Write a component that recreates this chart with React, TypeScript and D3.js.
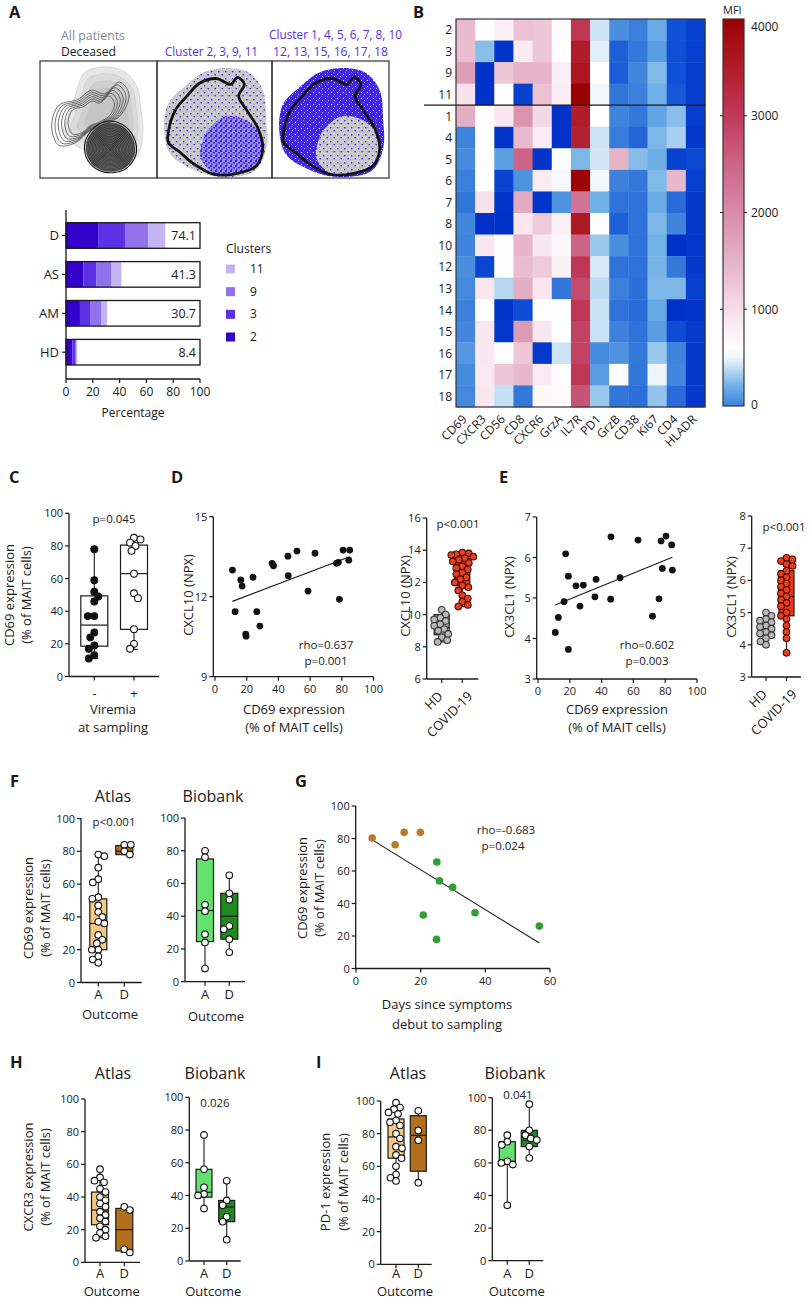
import React from "react";
import * as d3 from "d3";

const FONT = "'Open Sans', 'DejaVu Sans', sans-serif";
const INK = "#1a1a1a";

// ---------------- Panel A: cluster composition ----------------
const barGroups = ["D", "AS", "AM", "HD"];
const barTotals = [74.1, 41.3, 30.7, 8.4];
const cluster2 = [24.0, 12.9, 10.4, 4.7];
const cluster3 = [20.0, 9.9, 8.0, 2.0];
const cluster9 = [17.5, 11.2, 8.1, 1.0];
const cluster11 = [12.6, 7.3, 4.2, 0.7];
const clusterNames = ["2", "3", "9", "11"];
const clusterColors = ["#3300cc", "#5a31e4", "#9172ec", "#c4b4f6"];
const barTicks = [0, 20, 40, 60, 80, 100];

// tSNE decoration shapes (normalised box coordinates)
const cloudShape = [[0.06, 0.56], [0.1, 0.36], [0.24, 0.22], [0.4, 0.1], [0.6, 0.06], [0.8, 0.1], [0.92, 0.25], [0.95, 0.5], [0.95, 0.75], [0.85, 0.94], [0.55, 0.99], [0.3, 0.92], [0.12, 0.8]];
const outlineShape = [[0.1, 0.6], [0.16, 0.42], [0.26, 0.3], [0.37, 0.19], [0.52, 0.15], [0.64, 0.2], [0.7, 0.14], [0.76, 0.2], [0.71, 0.3], [0.78, 0.42], [0.88, 0.58], [0.92, 0.75], [0.86, 0.9], [0.7, 0.96], [0.5, 0.97], [0.32, 0.88], [0.2, 0.78], [0.1, 0.7]];
const lowerRightShape = [[0.45, 0.58], [0.6, 0.47], [0.8, 0.52], [0.91, 0.66], [0.88, 0.86], [0.72, 0.95], [0.5, 0.96], [0.38, 0.83], [0.4, 0.67]];
const grayDensity = [[0.3, 0.3], [0.38, 0.1], [0.55, 0.05], [0.72, 0.09], [0.83, 0.22], [0.86, 0.4], [0.88, 0.6], [0.84, 0.8], [0.7, 0.92], [0.5, 0.9], [0.4, 0.78], [0.3, 0.72], [0.2, 0.62], [0.25, 0.45]];
const coreContour = [[0.42, 0.62], [0.55, 0.52], [0.7, 0.54], [0.8, 0.65], [0.82, 0.8], [0.72, 0.93], [0.55, 0.95], [0.43, 0.88], [0.38, 0.75]];
const armContour = [[0.1, 0.56], [0.16, 0.38], [0.32, 0.33], [0.44, 0.25], [0.55, 0.28], [0.68, 0.18], [0.76, 0.28], [0.7, 0.45], [0.55, 0.55], [0.42, 0.6], [0.3, 0.7], [0.16, 0.72]];

// ---------------- Panel B: heatmap ----------------
const heatRows = ["2", "3", "9", "11", "1", "4", "5", "6", "7", "8", "10", "12", "13", "14", "15", "16", "17", "18"];
const heatMarkers = ["CD69", "CXCR3", "CD56", "CD8", "CXCR6", "GrzA", "IL7R", "PD1", "GrzB", "CD38", "Ki67", "CD4", "HLADR"];
const heatValues = [
  [1400, 620, 800, 1300, 1250, 650, 3050, 420, 60, 0, 180, -150, -230],
  [1350, 260, -280, 850, 1250, 620, 3500, 470, -100, -20, 120, -160, -230],
  [1750, -290, 1250, 1500, 1500, 800, 3600, 600, -110, 30, 240, -150, -240],
  [950, -290, 620, -230, 1300, 820, 4000, 520, -30, 10, 200, -130, -240],
  [1550, 620, 900, 1900, 1050, -290, 3500, 600, 20, -20, 150, 260, -240],
  [20, 620, -280, 1400, 850, -290, 3400, 420, -10, -80, 230, 330, -270],
  [50, 620, 130, 2500, -280, 630, 230, 430, 1500, 250, 190, -220, -180],
  [0, 600, -210, 80, 850, 540, 3950, 530, 10, -20, 240, 1450, -230],
  [-30, 950, -280, 1600, -280, 80, 2300, 200, -40, -40, 180, -60, -260],
  [30, -330, -300, 900, 1200, 780, 3550, 620, -100, -40, 230, 20, -260],
  [20, 880, 610, 1500, 880, 700, 2500, 300, 60, -40, 210, -300, -270],
  [60, -200, 620, 1350, 1200, 760, 3050, 440, -40, -40, 220, -20, -260],
  [40, 900, 360, 1550, 900, -30, 2800, 380, 0, -50, 230, 230, -230],
  [10, 620, -280, -170, 620, 630, 3050, 410, -40, -60, 170, -300, -280],
  [30, 880, -270, 1800, 880, 630, 2900, 410, 10, -40, 120, -170, -250],
  [100, 880, 640, 1250, -260, 420, 2900, 50, 80, -20, 300, 20, -260],
  [50, 860, 1250, 1450, 850, 650, 3050, 120, 620, -30, 500, 30, -260],
  [40, 880, 400, -20, 680, 660, 2700, 300, -30, -50, 280, -60, -260],
];
const heatStops = [-300, -150, 0, 200, 350, 500, 600, 900, 1300, 1800, 2500, 3000, 3500, 4000];
const heatColors = ["#0030c8", "#1050d6", "#3a7fdb", "#6fb0e6", "#b0d4f0", "#eef5fc", "#ffffff", "#f9e6ee", "#ecc2d3", "#dc9cb6", "#cc6488", "#c03a5a", "#b01c28", "#990000"];
const mfiTicks = [0, 1000, 2000, 3000, 4000];

// ---------------- Panel C ----------------
const viremiaNegStats = [11, 18.6, 31.5, 49.4, 78.4];
const viremiaNegPts = [78, 59, 52, 49, 46, 37, 37, 27, 24, 19, 17, 13, 11];
const viremiaPosStats = [16.6, 28.9, 63, 80.5, 85];
const viremiaPosPts = [85, 84, 82, 80, 77, 63, 51, 48, 29, 20, 17];
const pctTicks = [0, 20, 40, 60, 80, 100];

// ---------------- Panel D ----------------
const cxcl10Scatter = [[11, 13.0], [16.3, 12.63], [17.1, 12.4], [24, 12.73], [36, 13.25], [36.9, 13.16], [46, 13.52], [46.2, 12.79], [51.7, 13.71], [58.7, 12.21], [63.1, 13.63], [76.6, 13.25], [77.8, 13.29], [80.8, 13.75], [85, 13.75], [84.4, 13.37], [78.5, 11.9], [12.7, 11.44], [19.4, 10.6], [19.6, 10.52], [26.4, 11.44], [28.3, 10.9]];
const cxcl10HDStats = [8.3, 8.75, 9.2, 10.0, 10.3];
const cxcl10HDPts = [10.3, 10.0, 9.8, 9.7, 9.6, 9.4, 9.3, 9.1, 9.0, 8.8, 8.6, 8.4, 8.3];
const cxcl10CovStats = [10.5, 11.8, 12.6, 13.5, 13.85];
const cxcl10CovPts = [13.85, 13.8, 13.75, 13.7, 13.6, 13.5, 13.4, 13.3, 13.2, 13.0, 12.9, 12.8, 12.6, 12.5, 12.3, 12.2, 12.0, 11.8, 11.7, 11.5, 11.2, 11.0, 10.8, 10.6, 10.5];

// ---------------- Panel E ----------------
const cx3cl1Scatter = [[10.9, 4.15], [12.8, 4.52], [16.4, 4.91], [17.4, 6.09], [19.1, 5.54], [19.1, 3.73], [23.9, 5.3], [26.4, 4.8], [28.5, 5.32], [36.5, 5.46], [35.8, 5.03], [45.9, 6.51], [45.7, 4.97], [51.6, 5.5], [62.9, 6.43], [77.4, 6.41], [80.5, 6.53], [84.1, 6.31], [78.2, 5.73], [84.5, 5.69], [76.1, 4.98], [72, 4.55]];
const cx3cl1HDStats = [4.0, 4.3, 4.55, 4.8, 5.0];
const cx3cl1HDPts = [5.0, 4.9, 4.8, 4.75, 4.7, 4.6, 4.55, 4.5, 4.4, 4.35, 4.3, 4.2, 4.1, 4.0];
const cx3cl1CovStats = [3.75, 4.9, 5.5, 6.3, 6.7];
const cx3cl1CovPts = [6.7, 6.65, 6.6, 6.5, 6.45, 6.3, 6.2, 6.1, 6.0, 5.9, 5.8, 5.7, 5.6, 5.5, 5.4, 5.3, 5.2, 5.0, 4.9, 4.8, 4.6, 4.4, 4.2, 3.75];

// ---------------- Panel F ----------------
const fAtlasAStats = [11, 20, 36, 51, 78];
const fAtlasAPts = [78, 77, 70, 63, 61, 52, 51, 47, 43, 40, 37, 36, 29, 26, 24, 20, 20, 16, 14, 12];
const fAtlasDStats = [78, 78, 80, 83.5, 84];
const fAtlasDPts = [84, 84, 80, 78];
const fBioAStats = [8, 24.5, 43.5, 75, 80];
const fBioAPts = [80, 76, 47, 43, 29, 24, 8];
const fBioDStats = [18, 26, 40, 54, 65];
const fBioDPts = [65, 54, 50, 34, 32, 26, 18];

// ---------------- Panel G ----------------
const daysDeceased = [[5, 80.3], [12.1, 76.2], [14.9, 83.8], [19.9, 83.8]];
const daysAlive = [[25.8, 53.9], [29.9, 49.9], [36.8, 34.3], [20.8, 32.9], [24.9, 17.9], [56.7, 26.1], [25, 65.5]];
const daysTicks = [0, 20, 40, 60];

// ---------------- Panel H ----------------
const hAtlasAStats = [15, 23, 32, 43, 57];
const hAtlasAPts = [57, 52, 50, 49, 45, 43, 40, 38, 36, 34, 31, 29, 27, 25, 22, 20, 18, 16, 15];
const hAtlasDStats = [6, 7, 20, 33, 34];
const hAtlasDPts = [34, 32, 8, 6];
const hBioAStats = [32, 39, 42, 56, 77];
const hBioAPts = [77, 56, 45, 41, 40, 32];
const hBioDStats = [13, 24, 33, 37, 49];
const hBioDPts = [49, 37, 34, 27, 24, 13];

// ---------------- Panel I ----------------
const iAtlasAStats = [51, 65, 78, 89, 99];
const iAtlasAPts = [99, 96, 95, 93, 92, 88, 87, 85, 80, 77, 72, 71, 67, 65, 60, 55, 53, 51];
const iAtlasDStats = [50, 57, 79, 91, 94];
const iAtlasDPts = [94, 82, 76, 50];
const iBioAStats = [34, 59, 61, 73, 77];
const iBioAPts = [77, 73, 71, 61, 60, 59, 34];
const iBioDStats = [63, 70, 74, 80, 96];
const iBioDPts = [96, 80, 77, 75, 74, 70, 63];

const LIGHT_OR = "#f5c983";
const DARK_OR = "#b3701c";
const LIGHT_GR = "#63e06e";
const DARK_GR = "#1e8a1e";
const G_BROWN = "#b97a2c";
const G_GREEN = "#2f9f2f";
const PURPLE_TXT = "#5530e0";

// ------------------------------------------------------------
function beeswarm(values: number[], y: (v: number) => number, r: number, maxDx: number) {
  const order = values.map((_, i) => i).sort((a, b) => values[b] - values[a]);
  const placed: { x: number; y: number }[] = [];
  const out: { dx: number; y: number }[] = new Array(values.length);
  const minD = 2 * r * 0.92;
  order.forEach((i, k) => {
    const py = y(values[i]);
    let chosen = 0;
    let bestOverlap = Infinity;
    let done = false;
    for (let s = 0; s <= maxDx && !done; s += 0.5) {
      const cands = k % 2 ? [s, -s] : [-s, s];
      for (const dx of cands) {
        let worst = 0;
        for (const p of placed) {
          const d = Math.hypot(p.x - dx, p.y - py);
          if (d < minD) worst = Math.max(worst, minD - d);
        }
        if (worst === 0) { chosen = dx; done = true; break; }
        if (worst < bestOverlap) { bestOverlap = worst; chosen = dx; }
      }
    }
    placed.push({ x: chosen, y: py });
    out[i] = { dx: chosen, y: py };
  });
  return out;
}

function lsq(pts: number[][]) {
  const mx = d3.mean(pts, (p) => p[0])!;
  const my = d3.mean(pts, (p) => p[1])!;
  let sxy = 0, sxx = 0;
  pts.forEach((p) => { sxy += (p[0] - mx) * (p[1] - my); sxx += (p[0] - mx) ** 2; });
  const b = sxy / sxx;
  return (x: number) => my + b * (x - mx);
}

function VText({ x, y, lines, size = 13, gap = 17 }: any) {
  return (
    <g>
      {lines.map((l: string, i: number) => (
        <text key={i} transform={`translate(${x + i * gap},${y}) rotate(-90)`} textAnchor="middle" fontSize={size} fill={INK}>{l}</text>
      ))}
    </g>
  );
}

function BoxChart(p: any) {
  const y = d3.scaleLinear().domain(p.yDomain).range(p.yRange);
  const yb = y(p.yDomain[0]);
  const yt = y(p.yDomain[1]);
  const r = p.r ?? 3.4;
  const capW = p.capW ?? 8;
  return (
    <g>
      <line x1={p.ax} x2={p.ax} y1={yt} y2={yb} stroke={INK} strokeWidth={1.3} />
      {p.ticks.map((t: number) => (
        <g key={t}>
          <line x1={p.ax - 4} x2={p.ax} y1={y(t)} y2={y(t)} stroke={INK} strokeWidth={1.2} />
          <text x={p.ax - 6} y={y(t) + 4} textAnchor="end" fontSize={11} fill={INK}>{t}</text>
        </g>
      ))}
      <line x1={p.ax} x2={p.xEnd} y1={yb} y2={yb} stroke={INK} strokeWidth={1.3} />
      {p.groups.map((g: any, gi: number) => {
        const [mn, q1, md, q3, mx] = g.stats;
        const sw = beeswarm(g.pts, y, r, p.boxW * 0.75);
        return (
          <g key={gi}>
            <line x1={g.cx} x2={g.cx} y1={yb} y2={yb + 4} stroke={INK} strokeWidth={1.2} />
            <line x1={g.cx} x2={g.cx} y1={y(mx)} y2={y(mn)} stroke={INK} strokeWidth={1.1} />
            <line x1={g.cx - capW / 2} x2={g.cx + capW / 2} y1={y(mx)} y2={y(mx)} stroke={INK} strokeWidth={1.1} />
            <line x1={g.cx - capW / 2} x2={g.cx + capW / 2} y1={y(mn)} y2={y(mn)} stroke={INK} strokeWidth={1.1} />
            <rect x={g.cx - p.boxW / 2} y={y(q3)} width={p.boxW} height={y(q1) - y(q3)} fill={g.fill} stroke={INK} strokeWidth={1.2} />
            <line x1={g.cx - p.boxW / 2} x2={g.cx + p.boxW / 2} y1={y(md)} y2={y(md)} stroke={INK} strokeWidth={1.2} />
            {sw.map((s, i) => (
              <circle key={i} cx={g.cx + s.dx} cy={s.y} r={r} fill={g.ptFill} stroke={g.ptStroke} strokeWidth={1.1} />
            ))}
            {p.rotLabels ? (
              <text transform={`translate(${g.cx + g.labDx},${yb + 18}) rotate(-45)`} textAnchor="end" fontSize={13} fill={INK}>{g.label}</text>
            ) : (
              <text x={g.cx} y={p.labelY} textAnchor="middle" fontSize={13} fill={INK}>{g.label}</text>
            )}
          </g>
        );
      })}
    </g>
  );
}

function Scatter(p: any) {
  const x = d3.scaleLinear().domain(p.xDomain).range(p.xRange);
  const y = d3.scaleLinear().domain(p.yDomain).range(p.yRange);
  const yb = y(p.yDomain[0]);
  const yt = y(p.yDomain[1]);
  const all = p.series.flatMap((s: any) => s.pts);
  const f = lsq(all);
  const xs = d3.extent(all, (d: number[]) => d[0]) as number[];
  return (
    <g>
      <line x1={p.ax} x2={p.ax} y1={yt} y2={yb} stroke={INK} strokeWidth={1.3} />
      {p.yTicks.map((t: number) => (
        <g key={t}>
          <line x1={p.ax - 4} x2={p.ax} y1={y(t)} y2={y(t)} stroke={INK} strokeWidth={1.2} />
          <text x={p.ax - 6} y={y(t) + 4} textAnchor="end" fontSize={11} fill={INK}>{t}</text>
        </g>
      ))}
      <line x1={p.ax} x2={x(p.xDomain[1])} y1={yb} y2={yb} stroke={INK} strokeWidth={1.3} />
      {p.xTicks.map((t: number) => (
        <g key={t}>
          <line x1={x(t)} x2={x(t)} y1={yb} y2={yb + 4} stroke={INK} strokeWidth={1.2} />
          <text x={x(t)} y={yb + 16} textAnchor="middle" fontSize={11} fill={INK}>{t}</text>
        </g>
      ))}
      <line x1={x(xs[0])} x2={x(xs[1])} y1={y(f(xs[0]))} y2={y(f(xs[1]))} stroke={INK} strokeWidth={1.1} />
      {p.series.map((s: any, si: number) =>
        s.pts.map((d: number[], i: number) => (
          <circle key={si + "-" + i} cx={x(d[0])} cy={y(d[1])} r={p.r} fill={s.color} />
        ))
      )}
    </g>
  );
}

function blob(pts: number[][], bx: number, by: number, w: number, h: number, s = 1, c = [0.5, 0.5]) {
  const line = d3.line().curve(d3.curveCatmullRomClosed.alpha(0.5));
  return line(pts.map(([u, v]) => [bx + (c[0] + (u - c[0]) * s) * w, by + (c[1] + (v - c[1]) * s) * h]) as any) || "";
}

function PanelATsne() {
  const top = 61, h = 117;
  const boxes = [[40, 117], [157, 115], [272, 117]];
  const [b1, b2, b3] = boxes;
  const coreScales = d3.range(1, 0.06, -0.055);
  const armScales = [1, 0.92, 0.84, 0.76, 0.68, 0.6];
  const grayScales = [1, 0.85, 0.7, 0.55];
  return (
    <g>
      <defs>
        <pattern id="pDense" width="6" height="6" patternUnits="userSpaceOnUse">
          <rect width="6" height="6" fill="#4424ea" />
          <rect x="1" y="2" width="1" height="1" fill="#ffffff" />
          <rect x="4" y="4" width="1" height="1" fill="#b9b0f5" />
          <rect x="3" y="0" width="1" height="1" fill="#8b78f0" />
        </pattern>
        <pattern id="pMed" width="5" height="5" patternUnits="userSpaceOnUse">
          <rect width="5" height="5" fill="#9a8ee0" />
          <rect x="0" y="0" width="2" height="2" fill="#3a1ef0" />
          <rect x="3" y="2" width="2" height="1.5" fill="#3a1ef0" />
          <rect x="1" y="3.5" width="1.5" height="1.5" fill="#4a2ef0" />
        </pattern>
        <pattern id="pSparse" width="7" height="7" patternUnits="userSpaceOnUse">
          <rect x="1" y="1" width="1.4" height="1.4" fill="#3a1ef0" />
          <rect x="4.5" y="4" width="1.4" height="1.4" fill="#3a1ef0" />
        </pattern>
        <pattern id="pGray" width="4" height="4" patternUnits="userSpaceOnUse">
          <rect width="4" height="4" fill="#c9c9c9" />
          <rect x="1" y="1" width="1" height="1" fill="#e6e6e6" />
          <rect x="3" y="3" width="1" height="1" fill="#b4b4b4" />
        </pattern>
      </defs>
      {/* box 1: density contours */}
      {grayScales.map((s, i) => (
        <path key={"g" + i} d={blob(grayDensity, b1[0], top, b1[1], h, s, [0.6, 0.45])} fill={["#e7e7e7", "#dadada", "#cfcfcf", "#c5c5c5"][i]} stroke="#c0c0c0" strokeWidth={0.5} />
      ))}
      {armScales.map((s, i) => (
        <path key={"a" + i} d={blob(armContour, b1[0], top, b1[1], h, s, [0.45, 0.48])} fill="none" stroke="#3a3a3a" strokeWidth={0.7} />
      ))}
      <path d={blob(coreContour, b1[0], top, b1[1], h, 0.95, [0.6, 0.76])} fill="#333" />
      {coreScales.map((s, i) => (
        <path key={"c" + i} d={blob(coreContour, b1[0], top, b1[1], h, s, [0.6, 0.76])} fill="none" stroke={i === 0 ? "#111" : "#777"} strokeWidth={i === 0 ? 1.1 : 0.6} />
      ))}
      {/* box 2 */}
      <path d={blob(cloudShape, b2[0], top, b2[1], h)} fill="url(#pGray)" />
      <path d={blob(cloudShape, b2[0], top, b2[1], h)} fill="url(#pSparse)" />
      <path d={blob(lowerRightShape, b2[0], top, b2[1], h)} fill="url(#pMed)" />
      <path d={blob(outlineShape, b2[0], top, b2[1], h)} fill="none" stroke="#111" strokeWidth={2.8} />
      {/* box 3 */}
      <path d={blob(cloudShape, b3[0], top, b3[1], h)} fill="url(#pDense)" />
      <path d={blob(lowerRightShape, b3[0], top, b3[1], h)} fill="url(#pGray)" />
      <path d={blob(lowerRightShape, b3[0], top, b3[1], h)} fill="url(#pSparse)" />
      <path d={blob(outlineShape, b3[0], top, b3[1], h)} fill="none" stroke="#111" strokeWidth={2.8} />
      {boxes.map((b, i) => (
        <rect key={i} x={b[0]} y={top} width={b[1]} height={h} fill="none" stroke="#333" strokeWidth={1.2} />
      ))}
      <text x={61} y={40} fontSize={12.5} textLength={64} lengthAdjust="spacingAndGlyphs" fill="#7f8a8c">All patients</text>
      <text x={61} y={56} fontSize={12.5} textLength={55} lengthAdjust="spacingAndGlyphs" fill={INK}>Deceased</text>
      <text x={165} y={56} fontSize={12.5} textLength={93} lengthAdjust="spacingAndGlyphs" fill={PURPLE_TXT}>Cluster 2, 3, 9, 11</text>
      <text x={269} y={39} fontSize={12.5} textLength={133} lengthAdjust="spacingAndGlyphs" fill={PURPLE_TXT}>Cluster 1, 4, 5, 6, 7, 8, 10</text>
      <text x={273} y={56} fontSize={12.5} textLength={115} lengthAdjust="spacingAndGlyphs" fill={PURPLE_TXT}>12, 13, 15, 16, 17, 18</text>
    </g>
  );
}

function PanelABars() {
  const x = d3.scaleLinear().domain([0, 100]).range([66, 200]);
  const y = d3.scalePoint<string>().domain(barGroups).range([235.5, 352.2]);
  const bh = 25.6;
  const series = [cluster2, cluster3, cluster9, cluster11];
  const fmt = d3.format(".1f");
  const legendY = d3.scalePoint<string>().domain([...clusterNames].reverse()).range([269, 337]);
  return (
    <g>
      <line x1={66} x2={66} y1={210} y2={379} stroke={INK} strokeWidth={1.3} />
      <line x1={66} x2={200} y1={379} y2={379} stroke={INK} strokeWidth={1.3} />
      {barTicks.map((t) => (
        <g key={t}>
          <line x1={x(t)} x2={x(t)} y1={379} y2={383} stroke={INK} strokeWidth={1.2} />
          <text x={x(t)} y={396} textAnchor="middle" fontSize={12} fill={INK}>{t}</text>
        </g>
      ))}
      <text x={133} y={417} textAnchor="middle" fontSize={12} fill={INK}>Percentage</text>
      {barGroups.map((g, i) => {
        const cy = y(g)!;
        let acc = 0;
        return (
          <g key={g}>
            <rect x={x(0)} y={cy - bh / 2} width={x(100) - x(0)} height={bh} fill="#fff" />
            {series.map((s, k) => {
              const x0 = acc;
              acc += s[i];
              return <rect key={k} x={x(x0)} y={cy - bh / 2} width={x(acc) - x(x0)} height={bh} fill={clusterColors[k]} />;
            })}
            <rect x={x(0)} y={cy - bh / 2} width={x(100) - x(0)} height={bh} fill="none" stroke={INK} strokeWidth={1.3} />
            <text x={x(100) - 4} y={cy + 4.5} textAnchor="end" fontSize={12.5} fill={INK}>{fmt(barTotals[i])}</text>
            <line x1={62} x2={66} y1={cy} y2={cy} stroke={INK} strokeWidth={1.2} />
            <text x={59} y={cy + 4.5} textAnchor="end" fontSize={13} fill={INK}>{g}</text>
          </g>
        );
      })}
      <text x={226} y={253} fontSize={12} fill={INK}>Clusters</text>
      {clusterNames.map((c, k) => (
        <g key={c}>
          <rect x={226} y={legendY(c)! - 4.5} width={9} height={9} fill={clusterColors[k]} />
          <text x={250} y={legendY(c)! + 4} fontSize={12} fill={INK}>{c}</text>
        </g>
      ))}
    </g>
  );
}

function PanelB() {
  const x = d3.scaleBand<string>().domain(heatMarkers).range([456, 705]);
  const y = d3.scaleBand<string>().domain(heatRows).range([19, 407]);
  const color = d3.scaleLinear<string>().domain(heatStops).range(heatColors).interpolate(d3.interpolateRgb).clamp(true);
  const ly = d3.scaleLinear().domain([0, 4000]).range([406, 19]);
  const gradStops = d3.range(0, 4001, 100);
  return (
    <g>
      <defs>
        <linearGradient id="mfiGrad" x1="0" y1="1" x2="0" y2="0">
          {gradStops.map((v) => (
            <stop key={v} offset={v / 4000} stopColor={color(v)} />
          ))}
        </linearGradient>
      </defs>
      {heatRows.map((r, i) =>
        heatMarkers.map((m, j) => (
          <rect key={r + m} x={x(m)} y={y(r)} width={x.bandwidth() + 0.4} height={y.bandwidth() + 0.4} fill={color(heatValues[i][j])} />
        ))
      )}
      <rect x={456} y={19} width={249} height={388} fill="none" stroke="#333" strokeWidth={1.2} />
      <line x1={424} x2={705} y1={y("1")} y2={y("1")} stroke={INK} strokeWidth={1.3} />
      {heatRows.map((r) => (
        <text key={r} x={452} y={y(r)! + y.bandwidth() / 2 + 4.5} textAnchor="end" fontSize={12} fill={INK}>{r}</text>
      ))}
      {heatMarkers.map((m) => (
        <text key={m} transform={`translate(${x(m)! + x.bandwidth() / 2 + 2},${420}) rotate(-45)`} textAnchor="end" fontSize={12} fill={INK}>{m}</text>
      ))}
      <rect x={723} y={19} width={21} height={387} fill="url(#mfiGrad)" stroke="#333" strokeWidth={1.2} />
      {mfiTicks.map((t) => (
        <g key={t}>
          {t > 0 && t < 4000 && <line x1={744} x2={747} y1={ly(t)} y2={ly(t)} stroke={INK} strokeWidth={1} />}
          {t > 0 && t < 4000 && <line x1={720} x2={723} y1={ly(t)} y2={ly(t)} stroke={INK} strokeWidth={1} />}
          <text x={751} y={t === 4000 ? ly(t) + 12 : t === 0 ? ly(t) + 3 : ly(t) + 4.5} fontSize={12} fill={INK}>{t}</text>
        </g>
      ))}
      <text x={723} y={14} fontSize={11} fill={INK}>MFI</text>
    </g>
  );
}

function PanelC() {
  return (
    <g>
      <BoxChart ax={69} xEnd={159} yDomain={[0, 100]} yRange={[676.5, 513.3]} ticks={pctTicks} boxW={27} r={3.4} capW={8} labelY={698}
        groups={[
          { cx: 94.3, stats: viremiaNegStats, pts: viremiaNegPts, fill: "#fff", ptFill: "#111", ptStroke: "#111", label: "-" },
          { cx: 134, stats: viremiaPosStats, pts: viremiaPosPts, fill: "#fff", ptFill: "#fff", ptStroke: "#111", label: "+" },
        ]} />
      <text x={114} y={523} textAnchor="middle" fontSize={11.5} fill={INK}>p=0.045</text>
      <text x={113} y={714} textAnchor="middle" fontSize={13} fill={INK}>Viremia</text>
      <text x={113} y={732} textAnchor="middle" fontSize={13} fill={INK}>at sampling</text>
      <VText x={14} y={595} lines={["CD69 expression", "(% of MAIT cells)"]} gap={17} />
    </g>
  );
}

function PanelD() {
  return (
    <g>
      <Scatter ax={213.3} xDomain={[0, 100]} xRange={[215, 373.5]} yDomain={[9, 15]} yRange={[676.7, 516.7]} yTicks={[9, 12, 15]} xTicks={pctTicks} r={3.4}
        series={[{ pts: cxcl10Scatter, color: "#111" }]} />
      <text x={326} y={649} textAnchor="middle" fontSize={11.5} fill={INK}>rho=0.637</text>
      <text x={326} y={665} textAnchor="middle" fontSize={11.5} fill={INK}>p=0.001</text>
      <text x={294} y={714} textAnchor="middle" fontSize={13} fill={INK}>CD69 expression</text>
      <text x={294} y={732} textAnchor="middle" fontSize={13} fill={INK}>(% of MAIT cells)</text>
      <VText x={193} y={595} lines={["CXCL10 (NPX)"]} />
      <BoxChart ax={426.7} xEnd={478.3} yDomain={[6, 16]} yRange={[679, 518]} ticks={[6, 8, 10, 12, 14, 16]} boxW={15} r={3.3} capW={6} rotLabels
        groups={[
          { cx: 441.7, stats: cxcl10HDStats, pts: cxcl10HDPts, fill: "#b5b5b5", ptFill: "#b8b8b8", ptStroke: "#3a3a3a", label: "HD", labDx: 2 },
          { cx: 462.3, stats: cxcl10CovStats, pts: cxcl10CovPts, fill: "#e63a1e", ptFill: "#e8401f", ptStroke: "#4a0a00", label: "COVID-19", labDx: 11 },
        ]} />
      <text x={458} y={528} textAnchor="middle" fontSize={11.5} fill={INK}>p&lt;0.001</text>
      <VText x={410} y={596} lines={["CXCL10 (NPX)"]} />
    </g>
  );
}

function PanelE() {
  return (
    <g>
      <Scatter ax={536.7} xDomain={[0, 100]} xRange={[538, 697]} yDomain={[3, 7]} yRange={[679, 517]} yTicks={[3, 4, 5, 6, 7]} xTicks={pctTicks} r={3.4}
        series={[{ pts: cx3cl1Scatter, color: "#111" }]} />
      <text x={647} y={649} textAnchor="middle" fontSize={11.5} fill={INK}>rho=0.602</text>
      <text x={647} y={665} textAnchor="middle" fontSize={11.5} fill={INK}>p=0.003</text>
      <text x={617} y={714} textAnchor="middle" fontSize={13} fill={INK}>CD69 expression</text>
      <text x={617} y={732} textAnchor="middle" fontSize={13} fill={INK}>(% of MAIT cells)</text>
      <VText x={514} y={597} lines={["CX3CL1 (NPX)"]} />
      <BoxChart ax={751.7} xEnd={801} yDomain={[3, 8]} yRange={[677, 516]} ticks={[3, 4, 5, 6, 7, 8]} boxW={15} r={3.3} capW={6} rotLabels
        groups={[
          { cx: 766, stats: cx3cl1HDStats, pts: cx3cl1HDPts, fill: "#b5b5b5", ptFill: "#b8b8b8", ptStroke: "#3a3a3a", label: "HD", labDx: 2 },
          { cx: 786.5, stats: cx3cl1CovStats, pts: cx3cl1CovPts, fill: "#e63a1e", ptFill: "#e8401f", ptStroke: "#4a0a00", label: "COVID-19", labDx: 11 },
        ]} />
      <text x={784} y={531} textAnchor="middle" fontSize={11.5} fill={INK}>p&lt;0.001</text>
      <VText x={736} y={597} lines={["CX3CL1 (NPX)"]} />
    </g>
  );
}

function OutcomePair(p: any) {
  return (
    <g>
      <BoxChart ax={p.ax} xEnd={p.xEnd} yDomain={[0, 100]} yRange={p.yRange} ticks={pctTicks} boxW={p.boxW ?? 17} r={3.3} capW={7} labelY={p.labelY}
        groups={[
          { cx: p.cxA, stats: p.aStats, pts: p.aPts, fill: p.aFill, ptFill: "#fff", ptStroke: "#111", label: "A" },
          { cx: p.cxD, stats: p.dStats, pts: p.dPts, fill: p.dFill, ptFill: "#fff", ptStroke: "#111", label: "D" },
        ]} />
      <text x={p.titleX} y={p.titleY} textAnchor="middle" fontSize={16} fill={INK}>{p.title}</text>
      <text x={p.outX} y={p.outY} textAnchor="middle" fontSize={13} fill={INK}>Outcome</text>
      {p.note && <text x={p.noteX} y={p.noteY} textAnchor="middle" fontSize={11.5} fill={INK}>{p.note}</text>}
    </g>
  );
}

function PanelF() {
  return (
    <g>
      <OutcomePair ax={81} xEnd={141.7} yRange={[982.5, 818.5]} cxA={98.3} cxD={124.3} labelY={999}
        aStats={fAtlasAStats} aPts={fAtlasAPts} dStats={fAtlasDStats} dPts={fAtlasDPts} aFill={LIGHT_OR} dFill={DARK_OR}
        title="Atlas" titleX={113} titleY={802} outX={110} outY={1019} note="p<0.001" noteX={114} noteY={826} />
      <OutcomePair ax={185} xEnd={245} yRange={[981.7, 818]} cxA={205} cxD={229.3} labelY={999}
        aStats={fBioAStats} aPts={fBioAPts} dStats={fBioDStats} dPts={fBioDPts} aFill={LIGHT_GR} dFill={DARK_GR}
        title="Biobank" titleX={213} titleY={802} outX={216} outY={1021} />
      <VText x={33} y={908} lines={["CD69 expression", "(% of MAIT cells)"]} gap={17} />
    </g>
  );
}

function PanelG() {
  return (
    <g>
      <Scatter ax={355.7} xDomain={[0, 60]} xRange={[356, 550]} yDomain={[0, 100]} yRange={[968.5, 806]} yTicks={pctTicks} xTicks={daysTicks} r={3.8}
        series={[{ pts: daysDeceased, color: G_BROWN }, { pts: daysAlive, color: G_GREEN }]} />
      <text x={506} y={834} textAnchor="middle" fontSize={11.5} fill={INK}>rho=-0.683</text>
      <text x={503} y={850} textAnchor="middle" fontSize={11.5} fill={INK}>p=0.024</text>
      <text x={447} y={1009} textAnchor="middle" fontSize={13} fill={INK}>Days since symptoms</text>
      <text x={447} y={1029} textAnchor="middle" fontSize={13} fill={INK}>debut to sampling</text>
      <VText x={307} y={888} lines={["CD69 expression", "(% of MAIT cells)"]} gap={17} />
    </g>
  );
}

function PanelH() {
  return (
    <g>
      <OutcomePair ax={85} xEnd={140} yRange={[1262.3, 1099]} cxA={100} cxD={124.3} labelY={1278}
        aStats={hAtlasAStats} aPts={hAtlasAPts} dStats={hAtlasDStats} dPts={hAtlasDPts} aFill={LIGHT_OR} dFill={DARK_OR}
        title="Atlas" titleX={113} titleY={1079} outX={111.7} outY={1296} />
      <OutcomePair ax={189.3} xEnd={240.7} yRange={[1261, 1097.3]} cxA={204} cxD={226.7} labelY={1278} boxW={16}
        aStats={hBioAStats} aPts={hBioAPts} dStats={hBioDStats} dPts={hBioDPts} aFill={LIGHT_GR} dFill={DARK_GR}
        title="Biobank" titleX={215} titleY={1079} outX={213.3} outY={1296} note="0.026" noteX={215} noteY={1107} />
      <VText x={33} y={1177} lines={["CXCR3 expression", "(% of MAIT cells)"]} gap={17} />
    </g>
  );
}

function PanelI() {
  return (
    <g>
      <OutcomePair ax={380.7} xEnd={431.7} yRange={[1264.3, 1101]} cxA={396} cxD={418.3} labelY={1278} boxW={16}
        aStats={iAtlasAStats} aPts={iAtlasAPts} dStats={iAtlasDStats} dPts={iAtlasDPts} aFill={LIGHT_OR} dFill={DARK_OR}
        title="Atlas" titleX={408} titleY={1079} outX={405} outY={1296} />
      <OutcomePair ax={492.3} xEnd={543.3} yRange={[1260.7, 1097.7]} cxA={507.3} cxD={529.3} labelY={1278} boxW={16}
        aStats={iBioAStats} aPts={iBioAPts} dStats={iBioDStats} dPts={iBioDPts} aFill={LIGHT_GR} dFill={DARK_GR}
        title="Biobank" titleX={515} titleY={1079} outX={516.7} outY={1296} note="0.041" noteX={518} noteY={1099} />
      <VText x={330} y={1182} lines={["PD-1 expression", "(% of MAIT cells)"]} gap={18} />
    </g>
  );
}

const panelLetters = [["A", 9, 18], ["B", 413, 18], ["C", 9, 483], ["D", 171, 483], ["E", 499, 483], ["F", 10, 787], ["G", 295, 787], ["H", 10, 1068], ["I", 316, 1068]];

export default function App() {
  return (
    <svg width={810} height={1301} style={{ position: "absolute", left: 0, top: 0, fontFamily: FONT }}>
      <rect width={810} height={1301} fill="#fff" />
      <PanelATsne />
      <PanelABars />
      <PanelB />
      <PanelC />
      <PanelD />
      <PanelE />
      <PanelF />
      <PanelG />
      <PanelH />
      <PanelI />
      {panelLetters.map(([l, x, y]) => (
        <text key={l as string} x={x as number} y={y as number} fontSize={16.5} fontWeight="bold" fill={INK}>{l}</text>
      ))}
    </svg>
  );
}
